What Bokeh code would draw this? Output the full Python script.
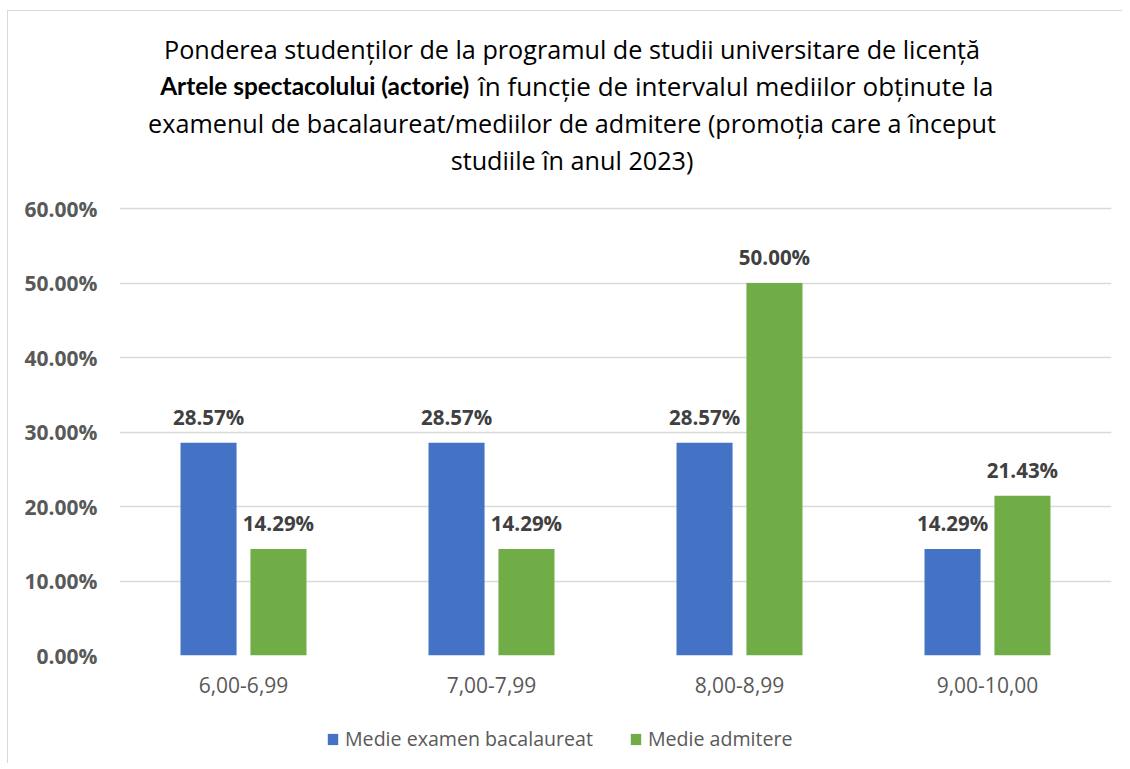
from bokeh.plotting import figure
from bokeh.models import FactorRange, Range1d, FixedTicker, PrintfTickFormatter, Legend, LegendItem, ColumnDataSource
from bokeh.layouts import column
from bokeh.transform import dodge
from bokeh.core.properties import value
from bokeh.embed import file_html
from bokeh.resources import INLINE

categories = ["6,00-6,99", "7,00-7,99", "8,00-8,99", "9,00-10,00"]
bacalaureat = [28.57, 28.57, 28.57, 14.29]
admitere = [14.29, 14.29, 50.00, 21.43]
series_names = ["Medie examen bacalaureat", "Medie admitere"]
y_ticks = [0, 10, 20, 30, 40, 50, 60]

title_line1 = "Ponderea studenților de la programul de studii universitare de licență"
title_line2_bold = "Artele spectacolului (actorie)"
title_line2_rest = "în funcție de intervalul mediilor obținute la"
title_line3 = "examenul de bacalaureat/mediilor de admitere (promoția care a început"
title_line4 = "studiile în anul 2023)"

FONT = "Open Sans"
BLUE = "#4472C4"
GREEN = "#70AD47"

src = ColumnDataSource(data=dict(
    cat=categories,
    bac=bacalaureat,
    adm=admitere,
    bac_lbl=[f"{v:.2f}%" for v in bacalaureat],
    adm_lbl=[f"{v:.2f}%" for v in admitere],
))

PX = 7.45  # pixels per percent unit
p = figure(
    width=1114, height=702,
    x_range=FactorRange(*categories, range_padding=0),
    y_range=Range1d(0, 642 / PX),
    output_backend="svg", toolbar_location=None,
    min_border_left=111, min_border_right=10, min_border_top=2, min_border_bottom=58,
)
p.outline_line_color = None
p.xgrid.grid_line_color = None
p.ygrid.grid_line_color = "#d9d9d9"
p.ygrid.grid_line_width = 1.3

p.yaxis.ticker = FixedTicker(ticks=y_ticks)
p.yaxis.formatter = PrintfTickFormatter(format="%.2f%%")
p.yaxis.axis_line_color = None
p.yaxis.major_tick_line_color = None
p.yaxis.minor_tick_line_color = None
p.yaxis.major_label_text_font = FONT
p.yaxis.major_label_text_font_style = "bold"
p.yaxis.major_label_text_font_size = "21px"
p.yaxis.major_label_text_color = "#595959"
p.yaxis.major_label_standoff = 16

p.xaxis.axis_line_color = None
p.xaxis.major_tick_line_color = None
p.xaxis.minor_tick_line_color = None
p.xaxis.major_label_text_font = FONT
p.xaxis.major_label_text_font_size = "21px"
p.xaxis.major_label_text_color = "#595959"
p.xaxis.major_label_standoff = 15

OFF = 0.141
W = 0.226
r1 = p.vbar(x=dodge("cat", -OFF, range=p.x_range), top="bac", width=W, source=src,
            fill_color=BLUE, line_color=None)
r2 = p.vbar(x=dodge("cat", OFF, range=p.x_range), top="adm", width=W, source=src,
            fill_color=GREEN, line_color=None)

for col, off in (("bac_lbl", -OFF), ("adm_lbl", OFF)):
    ycol = "bac" if col == "bac_lbl" else "adm"
    p.text(x=dodge("cat", off, range=p.x_range), y=ycol, text=col, source=src,
           text_align="center", text_baseline="alphabetic", y_offset=-26,
           text_font=value(FONT), text_font_style="bold", text_font_size="20.5px",
           text_color="#404040")

# Title (drawn inside the frame area above the 60% gridline)
def ypix(page_y):
    return (655 - page_y) / PX

def xpix(page_x):
    return (page_x - 119) / 248.25

TCOL = "#000000"
TSIZE = "25.2px"
cx = xpix(572)
p.text(x=[cx], y=[ypix(48)], text=[title_line1], text_align="center", text_baseline="alphabetic",
       text_font=value(FONT), text_font_size=TSIZE, text_color=TCOL)
p.text(x=[xpix(469)], y=[ypix(85)], text=[title_line2_bold], text_align="right", text_baseline="alphabetic",
       text_font=value("Lato"), text_font_style="bold", text_font_size="24.4px", text_color=TCOL)
p.text(x=[xpix(478)], y=[ypix(85)], text=[title_line2_rest], text_align="left", text_baseline="alphabetic",
       text_font=value(FONT), text_font_size="26px", text_color=TCOL)
p.text(x=[cx], y=[ypix(122)], text=[title_line3], text_align="center", text_baseline="alphabetic",
       text_font=value(FONT), text_font_size=TSIZE, text_color=TCOL)
p.text(x=[cx], y=[ypix(159)], text=[title_line4], text_align="center", text_baseline="alphabetic",
       text_font=value(FONT), text_font_size=TSIZE, text_color=TCOL)

# Legend strip below the chart (its renderers are hidden; only the legend shows)
p2 = figure(width=1114, height=50, output_backend="svg", toolbar_location=None,
            x_range=FactorRange(*categories), y_range=Range1d(-2000, -1000),
            min_border_left=0, min_border_right=11, min_border_top=0, min_border_bottom=0)
p2.axis.visible = False
p2.grid.visible = False
p2.outline_line_color = None
l1 = p2.vbar(x="cat", top="bac", width=0.3, source=src, fill_color=BLUE, line_color=None)
l2 = p2.vbar(x="cat", top="adm", width=0.3, source=src, fill_color=GREEN, line_color=None)
l1.visible = False
l2.visible = False
legend = Legend(items=[LegendItem(label=series_names[0], renderers=[l1]),
                       LegendItem(label=series_names[1], renderers=[l2])],
                orientation="horizontal", location=(207, 11),
                label_text_font=FONT, label_text_font_size="19.6px", label_text_color="#595959",
                glyph_width=13, glyph_height=14, label_standoff=6, spacing=36,
                border_line_color=None, background_fill_alpha=0, padding=0, margin=0,
                inactive_fill_alpha=0)
p2.add_layout(legend, "center")

layout = column(p, p2, spacing=0,
                styles={"margin-left": "7px", "margin-top": "10px",
                        "border-left": "1px solid #d9d9d9", "border-top": "1px solid #d9d9d9"})

open("out.html", "w").write(file_html(layout, INLINE))
